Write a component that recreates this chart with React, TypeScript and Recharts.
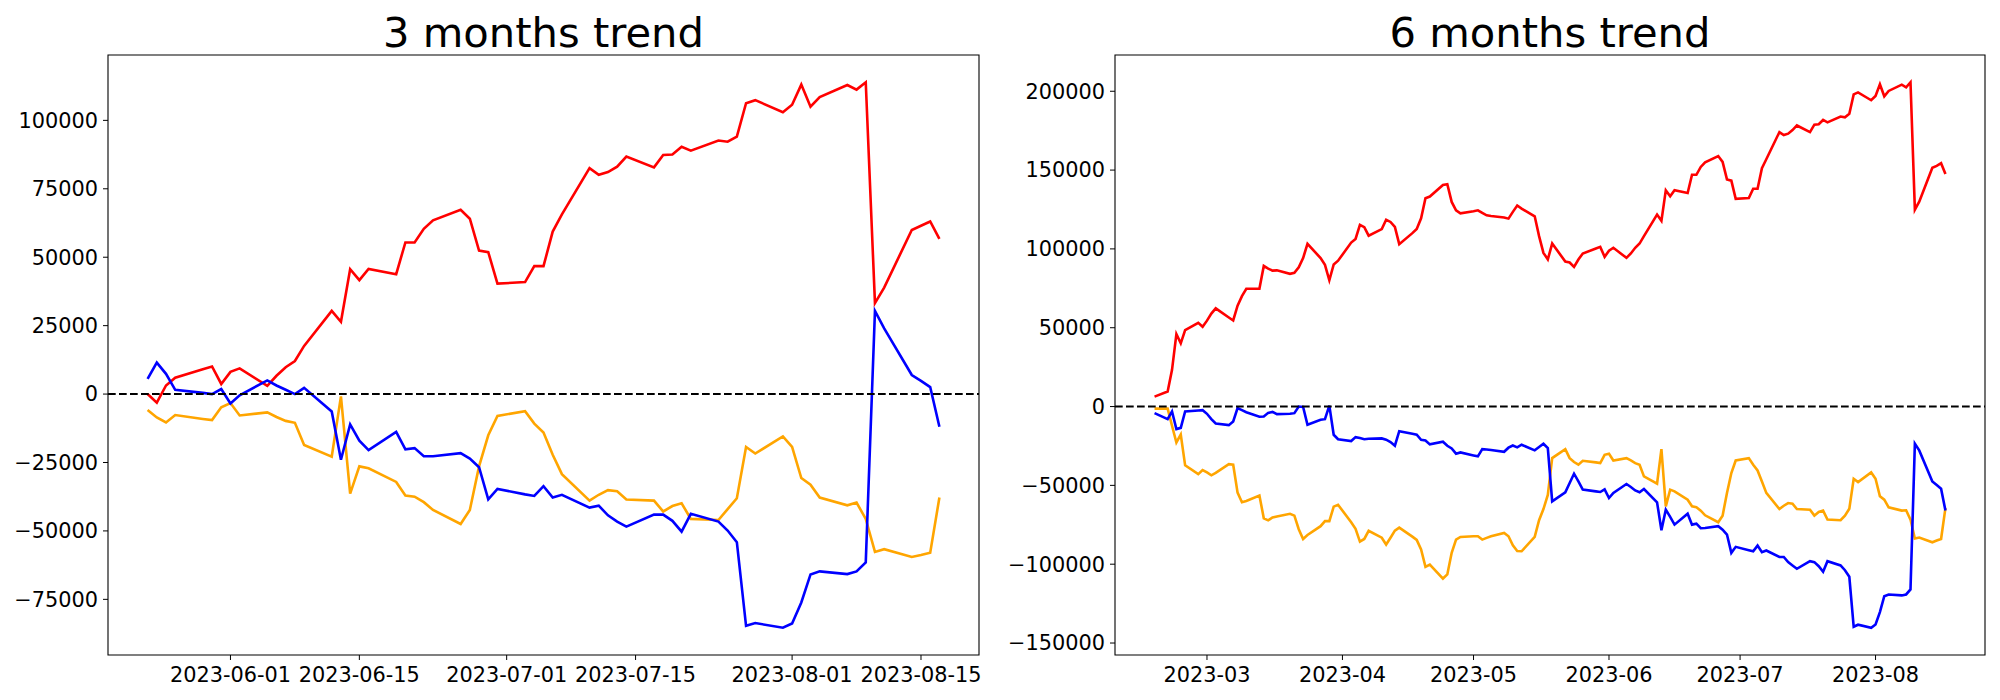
import React from "react";
import { LineChart, Line, XAxis, YAxis, ReferenceLine, ReferenceArea } from "recharts";

// ---------- 3 months trend ----------
const dates3m: string[] = [
  "2023-05-23", "2023-05-24", "2023-05-25", "2023-05-26", "2023-05-29", "2023-05-30", "2023-05-31",
  "2023-06-01", "2023-06-02", "2023-06-05", "2023-06-06", "2023-06-07", "2023-06-08", "2023-06-09",
  "2023-06-12", "2023-06-13", "2023-06-14", "2023-06-15", "2023-06-16",
  "2023-06-19", "2023-06-20", "2023-06-21", "2023-06-22", "2023-06-23",
  "2023-06-26", "2023-06-27", "2023-06-28", "2023-06-29", "2023-06-30",
  "2023-07-03", "2023-07-04", "2023-07-05", "2023-07-06", "2023-07-07",
  "2023-07-10", "2023-07-11", "2023-07-12", "2023-07-13", "2023-07-14",
  "2023-07-17", "2023-07-18", "2023-07-19", "2023-07-20", "2023-07-21",
  "2023-07-24", "2023-07-25", "2023-07-26", "2023-07-27", "2023-07-28",
  "2023-07-31", "2023-08-01", "2023-08-02", "2023-08-03", "2023-08-04",
  "2023-08-07", "2023-08-08", "2023-08-09", "2023-08-10", "2023-08-11",
  "2023-08-14", "2023-08-15", "2023-08-16", "2023-08-17",
];
const red3m: number[] = [
  0, -3130, 3130, 5970, 9090, 10090, 3690,
  8100, 9380, 2980, 6680, 9800, 12070, 17610,
  30400, 26420, 45600, 41620, 45740,
  43800, 55400, 55400, 60370, 63500,
  67330, 64070, 52420, 51850, 40340,
  40910, 46730, 46730, 59380, 65630,
  82530, 80120, 81110, 83100, 86790,
  82820, 87360, 87500, 90340, 88920,
  92620, 92190, 94040, 106250, 107390,
  102990, 105690, 113070, 104980, 108530,
  112930, 111230, 113920, 33240, 38920,
  59950, 61510, 63070, 56680,
];
const blue3m: number[] = [
  5540, 11510, 7390, 1560, 430, 0, 1850,
  -3410, -430, 4970, 3130, 1560, 0, 2270,
  -6390, -24010, -11080, -17050, -20460,
  -13800, -20170, -19750, -22730, -22730,
  -21590, -23580, -26710, -38500, -34660,
  -36650, -37220, -33670, -37790, -36790,
  -41480, -40770, -44320, -46590, -48440,
  -44040, -44040, -46310, -50290, -43750,
  -46590, -49860, -54120, -84660, -83670,
  -85370, -83810, -76140, -65910, -64780,
  -65770, -64780, -61510, 30400, 24010,
  6960, 4830, 2560, -11930,
];
const orange3m: number[] = [
  -5820, -8520, -10370, -7670, -9090, -9520, -4830,
  -3270, -7810, -6680, -8380, -9800, -10510, -18610,
  -22870, -850, -36370, -26420, -27130,
  -32100, -37080, -37500, -39490, -42330,
  -47450, -42330, -26420, -15060, -7960,
  -6250, -10800, -14060, -22160, -29260,
  -38920, -36790, -35090, -35510, -38500,
  -38920, -42900, -40910, -39920, -45600,
  -46020, -42050, -38070, -19320, -21730,
  -15480, -19320, -30680, -33100, -37790,
  -40630, -39630, -45600, -57670, -56680,
  -59520, -58810, -57960, -37790,
];
const xTickLabels3m: string[] = ["2023-06-01", "2023-06-15", "2023-07-01", "2023-07-15", "2023-08-01", "2023-08-15"];
const yTicks3m: number[] = [-75000, -50000, -25000, 0, 25000, 50000, 75000, 100000];

// ---------- 6 months trend ----------
const dates6m: string[] = [
  "2023-02-17",
  "2023-02-20", "2023-02-21", "2023-02-22", "2023-02-23", "2023-02-24",
  "2023-02-27", "2023-02-28", "2023-03-01", "2023-03-02", "2023-03-03",
  "2023-03-06", "2023-03-07", "2023-03-08", "2023-03-09", "2023-03-10",
  "2023-03-13", "2023-03-14", "2023-03-15", "2023-03-16", "2023-03-17",
  "2023-03-20", "2023-03-21", "2023-03-22", "2023-03-23", "2023-03-24",
  "2023-03-27", "2023-03-28", "2023-03-29", "2023-03-30", "2023-03-31",
  "2023-04-03", "2023-04-04", "2023-04-05", "2023-04-06", "2023-04-07",
  "2023-04-10", "2023-04-11", "2023-04-12", "2023-04-13", "2023-04-14",
  "2023-04-17", "2023-04-18", "2023-04-19", "2023-04-20", "2023-04-21",
  "2023-04-24", "2023-04-25", "2023-04-26", "2023-04-27", "2023-04-28",
  "2023-05-01", "2023-05-02", "2023-05-03", "2023-05-04", "2023-05-05",
  "2023-05-08", "2023-05-09", "2023-05-10", "2023-05-11", "2023-05-12",
  "2023-05-15", "2023-05-16", "2023-05-17", "2023-05-18", "2023-05-19",
  "2023-05-22", "2023-05-23", "2023-05-24", "2023-05-25", "2023-05-26",
  "2023-05-29", "2023-05-30", "2023-05-31", "2023-06-01", "2023-06-02",
  "2023-06-05", "2023-06-06", "2023-06-07", "2023-06-08", "2023-06-09",
  "2023-06-12", "2023-06-13", "2023-06-14", "2023-06-15", "2023-06-16",
  "2023-06-19", "2023-06-20", "2023-06-21", "2023-06-22", "2023-06-23",
  "2023-06-26", "2023-06-27", "2023-06-28", "2023-06-29", "2023-06-30",
  "2023-07-03", "2023-07-04", "2023-07-05", "2023-07-06", "2023-07-07",
  "2023-07-10", "2023-07-11", "2023-07-12", "2023-07-13", "2023-07-14",
  "2023-07-17", "2023-07-18", "2023-07-19", "2023-07-20", "2023-07-21",
  "2023-07-24", "2023-07-25", "2023-07-26", "2023-07-27", "2023-07-28",
  "2023-07-31", "2023-08-01", "2023-08-02", "2023-08-03", "2023-08-04",
  "2023-08-07", "2023-08-08", "2023-08-09", "2023-08-10", "2023-08-11",
  "2023-08-14", "2023-08-15", "2023-08-16", "2023-08-17",
];
const red6m: number[] = [
  6300,
  9500, 23300, 46000, 40100, 48500,
  53100, 50600, 54500, 59000, 62300,
  56500, 54600, 64000, 70000, 74700,
  74700, 89200, 87500, 86200, 86400,
  84200, 84800, 88300, 94200, 103200,
  94200, 89900, 80100, 90100, 92500,
  104000, 106300, 115300, 113800, 108400,
  112600, 118500, 117100, 113900, 103000,
  110000, 112700, 119400, 132100, 133200,
  140500, 141000, 129800, 124500, 122600,
  123900, 124500, 122800, 121300, 120900,
  119900, 119200, 123500, 127500, 125600,
  120700, 108100, 97500, 93300, 103400,
  92000, 91400, 88600, 93300, 97100,
  100200, 101300, 95000, 98800, 100700,
  94300, 97100, 100700, 103400, 108100,
  121800, 117800, 137200, 133400, 137200,
  135500, 147000, 147000, 152000, 154900,
  158900, 155200, 144100, 143300, 131800,
  132300, 138200, 138200, 151200, 156900,
  174100, 172200, 173100, 175400, 178300,
  174100, 178800, 179100, 181800, 180300,
  184000, 183500, 185700, 198000, 199300,
  194300, 197000, 204400, 196800, 200200,
  204200, 202500, 205700, 124900, 130000,
  151500, 152700, 154400, 147500,
];
const blue6m: number[] = [
  -4200,
  -8000, -3100, -14300, -13500, -3100,
  -2500, -2300, -4600, -8000, -10700,
  -11800, -9500, -1000, -2300, -3600,
  -6500, -6300, -4000, -3400, -4800,
  -4600, -4200, 0, -200, -11600,
  -8400, -8000, 600, -17900, -20700,
  -21900, -19400, -20000, -20700, -20400,
  -20200, -21000, -22500, -24800, -15600,
  -17300, -17900, -21100, -21500, -24000,
  -22300, -24900, -26600, -29900, -29100,
  -31000, -31600, -27000, -27200, -27600,
  -28700, -26100, -24700, -25900, -24200,
  -27800, -25700, -23600, -26400, -60100,
  -54400, -48500, -42600, -47500, -52700,
  -53800, -54200, -52500, -58000, -54800,
  -49100, -51000, -53200, -54400, -52300,
  -60700, -78500, -65400, -70000, -74900,
  -68000, -74900, -74300, -77200, -77000,
  -75900, -78100, -81200, -92800, -89000,
  -91100, -91800, -88200, -92400, -91300,
  -95400, -95400, -98700, -100800, -102900,
  -98100, -98700, -101300, -104800, -98100,
  -100800, -103800, -108000, -139700, -138400,
  -140300, -138200, -130400, -120300, -119200,
  -119800, -119200, -116000, -23600, -27800,
  -47500, -49800, -52100, -66000,
];
const orange6m: number[] = [
  -1300,
  -1300, -12200, -22800, -17800, -37300,
  -42900, -40300, -41800, -43600, -42100,
  -36500, -36900, -54600, -60700, -59900,
  -56400, -70900, -72200, -70400, -69700,
  -68000, -69200, -77800, -84000, -81500,
  -75900, -72700, -72700, -63500, -62300,
  -73400, -77600, -85700, -84000, -78800,
  -83200, -87500, -83200, -78700, -76800,
  -82500, -84600, -90700, -101700, -100200,
  -109100, -106500, -92800, -84400, -82700,
  -82300, -82300, -84400, -83300, -82300,
  -80200, -82300, -88000, -91600, -91800,
  -82700, -72100, -65000, -56100, -32700,
  -27000, -32700, -35200, -36900, -34400,
  -35400, -35900, -30600, -29900, -34200,
  -32700, -34200, -35900, -36900, -44300,
  -48900, -27000, -63300, -52700, -53800,
  -59100, -63300, -63900, -66000, -69000,
  -73400, -69200, -54800, -42200, -34200,
  -32700, -36900, -40500, -47500, -54800,
  -65000, -62900, -61200, -61600, -65000,
  -65400, -69200, -66900, -66000, -71700,
  -72100, -69200, -64800, -45800, -47900,
  -41800, -45800, -56900, -59100, -63900,
  -66000, -65800, -71700, -83700, -83100,
  -86100, -85000, -84000, -64300,
];
const xTickLabels6m: string[] = ["2023-03", "2023-04", "2023-05", "2023-06", "2023-07", "2023-08"];
const yTicks6m: number[] = [-150000, -100000, -50000, 0, 50000, 100000, 150000, 200000];

const titles: string[] = ["3 months trend", "6 months trend"];

// ---------- helpers ----------
const FONT = "'DejaVu Sans', 'Liberation Sans', sans-serif";
const TICK_FS = 20.83;
const LW = 2.6;

type Row = { x: number; red: number; blue: number; orange: number };

function toDay(s: string): number {
  const p = s.split("-").map(Number);
  return Date.UTC(p[0], p[1] - 1, p[2] || 1) / 86400000;
}

function buildRows(dates: string[], red: number[], blue: number[], orange: number[]): Row[] {
  return dates.map((d, i) => ({ x: toDay(d), red: red[i], blue: blue[i], orange: orange[i] }));
}

function padded(values: number[]): [number, number] {
  const lo = Math.min(...values);
  const hi = Math.max(...values);
  const r = hi - lo;
  return [lo - 0.05 * r, hi + 0.05 * r];
}

const fmtY = (v: number) => (v < 0 ? "\u2212" + String(Math.abs(v)) : String(v));

type PanelProps = {
  rows: Row[];
  xTickLabels: string[];
  yTicks: number[];
  left: number;
  yAxisWidth: number;
  marginRight: number;
};

function Panel({ rows, xTickLabels, yTicks, left, yAxisWidth, marginRight }: PanelProps) {
  const xDomain = padded(rows.map((r) => r.x));
  const yDomain = padded(rows.flatMap((r) => [r.red, r.blue, r.orange]));
  const xTicks = xTickLabels.map(toDay);
  const labelOf = (v: number) => {
    const i = xTicks.indexOf(v);
    return i >= 0 ? xTickLabels[i] : "";
  };
  const tickStyle = { fill: "#000", fontSize: TICK_FS, fontFamily: FONT };
  return (
    <div style={{ position: "absolute", left, top: 0, width: 1000, height: 700 }}>
      <LineChart
        width={1000}
        height={700}
        data={rows}
        margin={{ top: 55, right: marginRight, bottom: 0, left: 0 }}
      >
        <XAxis
          type="number"
          dataKey="x"
          domain={xDomain}
          allowDataOverflow
          ticks={xTicks}
          tickFormatter={labelOf}
          interval={0}
          height={45}
          axisLine={false}
          tickSize={5}
          tickMargin={7}
          stroke="#000"
          tick={tickStyle}
        />
        <YAxis
          type="number"
          domain={yDomain}
          allowDataOverflow
          ticks={yTicks}
          tickFormatter={fmtY}
          interval={0}
          width={yAxisWidth}
          axisLine={false}
          tickSize={5}
          tickMargin={5}
          stroke="#000"
          tick={tickStyle}
        />
        <Line type="linear" dataKey="red" stroke="#ff0000" strokeWidth={LW} dot={false} activeDot={false} isAnimationActive={false} />
        <Line type="linear" dataKey="orange" stroke="#ffa500" strokeWidth={LW} dot={false} activeDot={false} isAnimationActive={false} />
        <Line type="linear" dataKey="blue" stroke="#0000ff" strokeWidth={LW} dot={false} activeDot={false} isAnimationActive={false} />
        <ReferenceLine y={0} stroke="#000" strokeWidth={2.1} strokeDasharray="7.7 3.3" ifOverflow="visible" />
        <ReferenceArea
          x1={xDomain[0]}
          x2={xDomain[1]}
          y1={yDomain[0]}
          y2={yDomain[1]}
          fill="none"
          fillOpacity={0}
          stroke="#000"
          strokeWidth={1.1}
          ifOverflow="visible"
        />
      </LineChart>
    </div>
  );
}

export default function App() {
  const rows3m = buildRows(dates3m, red3m, blue3m, orange3m);
  const rows6m = buildRows(dates6m, red6m, blue6m, orange6m);
  return (
    <div style={{ position: "absolute", left: 0, top: 0, width: 2000, height: 700, background: "#fff", overflow: "hidden" }}>
      <Panel rows={rows3m} xTickLabels={xTickLabels3m} yTicks={yTicks3m} left={0} yAxisWidth={108} marginRight={21} />
      <Panel rows={rows6m} xTickLabels={xTickLabels6m} yTicks={yTicks6m} left={1000} yAxisWidth={115} marginRight={15} />
      <svg width={2000} height={60} style={{ position: "absolute", left: 0, top: 0 }}>
        <text x={543.5} y={46.7} textAnchor="middle" fontSize={41.67} fontFamily={FONT} fill="#000">
          {titles[0]}
        </text>
        <text x={1550} y={46.7} textAnchor="middle" fontSize={41.67} fontFamily={FONT} fill="#000">
          {titles[1]}
        </text>
      </svg>
    </div>
  );
}
